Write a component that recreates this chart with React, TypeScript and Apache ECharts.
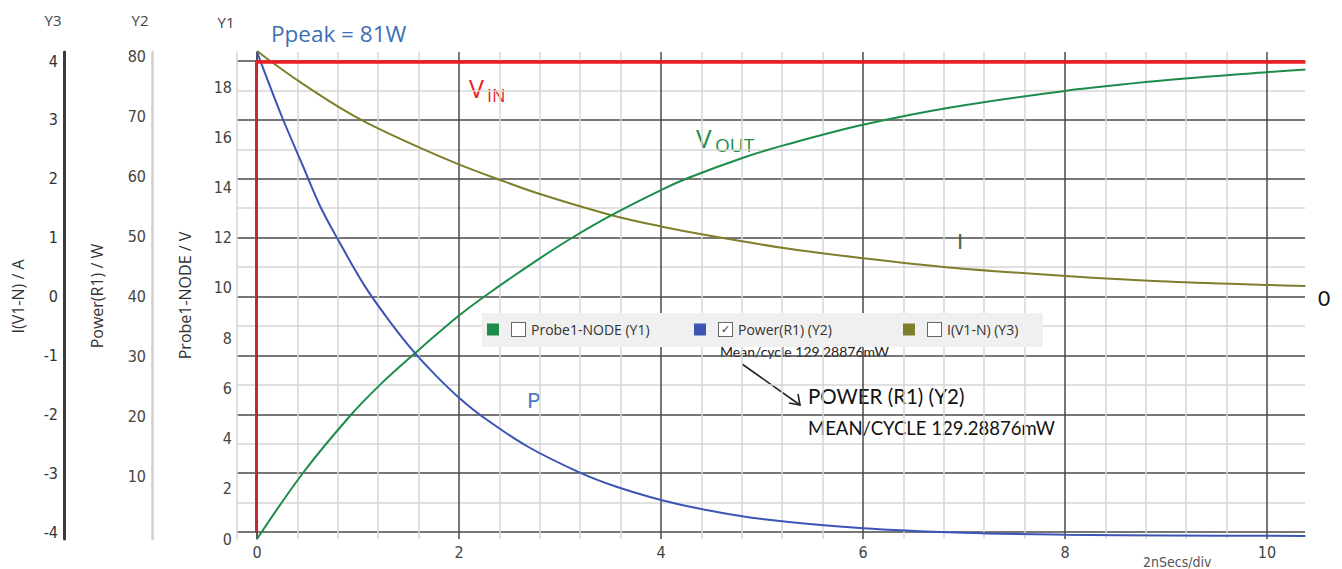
import React, { useEffect, useRef } from "react";
import * as echarts from "echarts";

// ---- data (time in units of the 2 ns/div axis) ----
const vinPoints: [number, number][] = [
  [-0.02, 0.25],
  [-0.02, 19],
  [10.38, 19],
];
const voutPoints: [number, number][] = [
  [0, 0], [0.455, 2.63], [0.92, 4.9], [1.22, 6.15], [1.55, 7.35], [2.0, 8.9],
  [2.3, 9.8], [2.77, 11.1], [3.1, 11.95], [3.51, 12.9], [4.0, 13.9],
  [4.28, 14.4], [4.82, 15.2], [5.23, 15.7], [6.0, 16.5], [6.88, 17.2],
  [8.0, 17.85], [8.94, 18.25], [10.02, 18.6], [10.38, 18.7],
];
const powerPoints: [number, number][] = [
  [0, 80.7], [0.244, 70.0], [0.459, 61.5], [0.624, 55.0], [0.805, 49.3],
  [1.069, 41.6], [1.317, 35.7], [1.548, 30.8], [1.779, 26.6], [2.003, 23.0],
  [2.24, 19.8], [2.67, 15.0], [3.18, 10.7], [3.56, 8.2], [4.0, 6.0],
  [4.4, 4.5], [5.02, 2.8], [6.0, 1.3], [7.0, 0.55], [8.0, 0.22], [9.0, 0.08],
  [10.38, 0.02],
];
const currentPoints: [number, number][] = [
  [0, 4.17], [0.129, 4.0], [0.426, 3.64], [0.805, 3.22], [1.086, 2.95],
  [1.581, 2.55], [2.003, 2.24], [2.373, 2.0], [2.8, 1.74], [3.49, 1.39],
  [4.0, 1.19], [4.485, 1.03], [5.23, 0.82], [6.0, 0.65], [6.88, 0.49],
  [8.01, 0.35], [8.94, 0.26], [10.02, 0.195], [10.38, 0.18],
];
const legendNames = ["Probe1-NODE (Y1)", "Power(R1) (Y2)", "I(V1-N) (Y3)"];
const checkedLegend = "Power(R1) (Y2)";
const axisHeaders = ["Y3", "Y2", "Y1"];
const meanText = "Mean/cycle 129.28876mW";
const calloutLines = ["POWER (R1) (Y2)", "MEAN/CYCLE 129.28876mW"];

const X_MAX = 10.376;
const DARK = "#4a4a4a";
const LIGHT = "#d6d6d6";
const TICK_FONT = "'DejaVu Sans Condensed', 'Liberation Sans Narrow', Roboto, sans-serif";
const NAME_FONT = "'Open Sans', 'Noto Sans', sans-serif";
const ANNO_FONT = "'Open Sans', 'Noto Sans', sans-serif";
const CALLOUT_FONT = "Lato, 'Open Sans', sans-serif";

const C_RED = "#ec1c24";
const C_GREEN = "#1c8c4a";
const C_BLUE = "#3a55b4";
const C_OLIVE = "#7e7e2c";

const isEvenInt = (v: number) =>
  Math.abs(v - Math.round(v)) < 1e-6 && Math.round(v) % 2 === 0;

export default function App() {
  const ref = useRef<HTMLDivElement>(null);

  useEffect(() => {
    if (!ref.current) return;
    const chart = echarts.init(ref.current, null, { renderer: "svg" });

    const hiddenX = (gridIndex: number, min: number) => ({
      gridIndex, type: "value", min, max: X_MAX, show: false,
    });
    const frameLine = (offset: number, color: string, width: number) => ({
      gridIndex: 0, type: "value", position: "left", min: 0, max: 1, offset,
      axisLine: { show: true, lineStyle: { color, width } },
      axisTick: { show: false }, axisLabel: { show: false }, splitLine: { show: false },
    });
    const curve = (name: string, xi: number, yi: number, data: [number, number][], color: string, z: number) => ({
      name, type: "line", xAxisIndex: xi, yAxisIndex: yi, data,
      symbol: "none", smooth: 0.35, clip: false, color, z,
      lineStyle: { color, width: 2 },
    });
    const legendAt = (left: number, name: string) => ({
      left, top: 312, orient: "horizontal", z: 10,
      padding: [10, 0, 10, 5],
      itemWidth: 12, itemHeight: 12, itemGap: 0, icon: "rect",
      selectedMode: false,
      data: [name],
      formatter: (n: string) => `{gap|}{box|${n === checkedLegend ? "✓" : ""}}{t|${n}}`,
      textStyle: {
        color: "#333", fontSize: 14, fontFamily: NAME_FONT,
        rich: {
          gap: { width: 8 },
          box: {
            width: 13, height: 13, lineHeight: 13, align: "center",
            borderColor: "#666", borderWidth: 1, backgroundColor: "#fff",
            fontSize: 11, color: "#333", fontFamily: "'DejaVu Sans', sans-serif",
          },
          t: { padding: [0, 0, 0, 6], fontSize: 14, color: "#333", fontFamily: NAME_FONT },
        },
      },
    });

    const option: any = {
      animation: false,
      backgroundColor: "#ffffff",
      grid: [
        { left: 257, right: 37, top: 52, bottom: 30 },
        { left: 237, right: 37, top: 61, bottom: 37 },
        { left: 257, right: 37, top: 56, bottom: 33 },
      ],
      xAxis: [
        {
          gridIndex: 0, type: "value", min: 0, max: X_MAX, interval: 0.4,
          axisLine: { show: false }, axisTick: { show: false },
          splitLine: {
            show: true, showMaxLine: false,
            lineStyle: { color: [DARK, LIGHT, LIGHT, LIGHT, LIGHT], width: 1.5 },
          },
          axisLabel: {
            showMaxLabel: false, margin: 5, color: "#444", fontSize: 16,
            fontFamily: TICK_FONT,
            formatter: (v: number) => (isEvenInt(v) ? String(Math.round(v)) : ""),
          },
        },
        hiddenX(1, -0.2),
        hiddenX(2, 0),
      ],
      yAxis: [
        {
          gridIndex: 0, type: "value", position: "left", min: 0, max: 19.4, interval: 2,
          offset: 10,
          axisLine: { show: true, lineStyle: { color: DARK, width: 1.5 } },
          axisTick: { show: false }, splitLine: { show: false },
          axisLabel: {
            margin: 15, color: "#444", fontSize: 16, fontFamily: TICK_FONT,
            showMaxLabel: false,
            formatter: (v: number) => (isEvenInt(v) ? String(Math.round(v)) : ""),
          },
          name: "Probe1-NODE / V", nameLocation: "middle", nameGap: 54,
          nameTextStyle: { color: "#333", fontSize: 16, fontFamily: NAME_FONT },
        },
        {
          gridIndex: 1, type: "value", position: "left", min: -4, max: 4, interval: 1,
          offset: 173,
          axisLine: { show: false }, axisTick: { show: false },
          splitLine: { show: true, lineStyle: { color: DARK, width: 1.5 } },
          minorTick: { show: false, splitNumber: 2 },
          minorSplitLine: { show: true, lineStyle: { color: LIGHT, width: 1.5 } },
          axisLabel: { margin: 6, color: "#333", fontSize: 16, fontFamily: TICK_FONT },
          name: "I(V1-N) / A", nameLocation: "middle", nameGap: 38,
          nameTextStyle: { color: "#333", fontSize: 16, fontFamily: NAME_FONT },
        },
        {
          gridIndex: 2, type: "value", position: "left", min: 0, max: 80, interval: 10,
          offset: 105,
          axisLine: { show: false }, axisTick: { show: false }, splitLine: { show: false },
          axisLabel: {
            margin: 6, color: "#444", fontSize: 16, fontFamily: TICK_FONT,
            formatter: (v: number) => (v === 0 ? "" : String(v)),
          },
          name: "Power(R1) / W", nameLocation: "middle", nameGap: 47,
          nameTextStyle: { color: "#333", fontSize: 16, fontFamily: NAME_FONT },
        },
        frameLine(193, "#3a3a3a", 3),
        frameLine(105, "#cfcfcf", 2.5),
        frameLine(20, LIGHT, 1.5),
      ],
      legend: [
        legendAt(482, legendNames[0]),
        legendAt(689, legendNames[1]),
        legendAt(898, legendNames[2]),
      ],
      series: [
        {
          name: "VIN", type: "line", xAxisIndex: 0, yAxisIndex: 0, data: vinPoints,
          symbol: "none", clip: false, color: C_RED, z: 5,
          lineStyle: { color: C_RED, width: 3.5 },
        },
        curve(legendNames[0], 0, 0, voutPoints, C_GREEN, 4),
        curve(legendNames[1], 2, 2, powerPoints, C_BLUE, 4),
        curve(legendNames[2], 1, 1, currentPoints, C_OLIVE, 3),
      ],
      graphic: [
        {
          type: "rect", z: 2, shape: { x: 482, y: 313, width: 561, height: 34 },
          style: { fill: "#f0f0f0" },
        },
        ...axisHeaders.map((h, i) => ({
          type: "text", x: [53, 140, 226][i], y: [20, 20, 22][i],
          style: { text: h, fill: "#444", fontSize: 15, fontFamily: NAME_FONT, align: "center", verticalAlign: "middle" },
        })),
        {
          type: "text", x: 271, y: 33,
          style: { text: "Ppeak = 81W", fill: "#3d6fb5", fontSize: 22.5, fontFamily: ANNO_FONT, verticalAlign: "middle" },
        },
        { type: "text", x: 469, y: 88, style: { text: "V", fill: C_RED, fontSize: 25, fontFamily: ANNO_FONT, verticalAlign: "middle" } },
        { type: "text", x: 487, y: 95, style: { text: "IN", fill: C_RED, fontSize: 18, fontFamily: ANNO_FONT, verticalAlign: "middle" } },
        { type: "text", x: 696, y: 138, style: { text: "V", fill: C_GREEN, fontSize: 26, fontFamily: ANNO_FONT, verticalAlign: "middle" } },
        { type: "text", x: 715, y: 145, style: { text: "OUT", fill: C_GREEN, fontSize: 19, fontFamily: ANNO_FONT, verticalAlign: "middle" } },
        { type: "text", x: 960, y: 240, style: { text: "I", fill: "#4d6a52", fontSize: 22, fontFamily: CALLOUT_FONT, align: "center", verticalAlign: "middle" } },
        { type: "text", x: 527, y: 399, style: { text: "P", fill: "#4a7cc0", fontSize: 22, fontFamily: CALLOUT_FONT, verticalAlign: "middle" } },
        { type: "text", x: 1318, y: 297, style: { text: "0", fill: "#111", fontSize: 21, fontFamily: CALLOUT_FONT, verticalAlign: "middle" } },
        { type: "text", x: 1143, y: 562, style: { text: "2nSecs/div", fill: "#555", fontSize: 14, fontFamily: TICK_FONT, verticalAlign: "middle" } },
        { type: "text", x: 720, y: 351, style: { text: meanText, fill: "#222", fontSize: 14, fontFamily: CALLOUT_FONT, verticalAlign: "middle" } },
        { type: "line", shape: { x1: 742, y1: 364, x2: 800, y2: 405 }, style: { stroke: "#222", lineWidth: 1.6 } },
        { type: "polyline", shape: { points: [[789, 403], [800, 405], [798, 394]] }, style: { stroke: "#222", lineWidth: 1.6, fill: "none" } },
        { type: "text", x: 808, y: 396, style: { text: calloutLines[0], fill: "#111", fontSize: 20.5, fontFamily: CALLOUT_FONT, verticalAlign: "middle" } },
        { type: "text", x: 808, y: 428, style: { text: calloutLines[1], fill: "#111", fontSize: 18.5, fontFamily: CALLOUT_FONT, verticalAlign: "middle" } },
      ],
    };

    chart.setOption(option);
    return () => chart.dispose();
  }, []);

  return (
    <div
      ref={ref}
      style={{ position: "fixed", left: 0, top: 0, width: 1342, height: 569, background: "#fff" }}
    />
  );
}
